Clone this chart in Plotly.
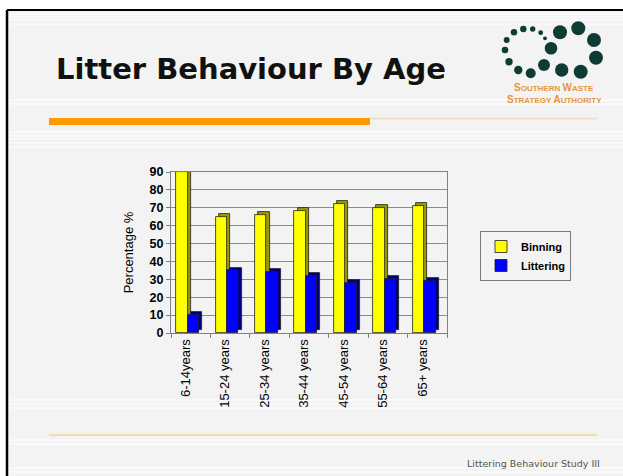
import plotly.graph_objects as go

# Survey results: share of respondents who bin or drop litter, by age group
ages = ["6-14years", "15-24 years", "25-34 years", "35-44 years",
        "45-54 years", "55-64 years", "65+ years"]
binning = [90, 65, 66, 68, 72, 70, 71]
littering = [10, 35, 34, 32, 28, 30, 29]
y_ticks = [0, 10, 20, 30, 40, 50, 60, 70, 80, 90]

W, H = 623, 476
L, R, T, B = 171, 447, 172, 333   # plot area in page pixels


def px(x):
    return (x - L) / (R - L)


def py(y):
    return (B - y) / (B - T)


BAR_W = 0.29
DEPTH_X = 0.08      # sideways shift of the shaded back face (category units)
DEPTH_Y = 1.6       # upward shift of the shaded back face (value units)

fig = go.Figure()


def add_3d_bars(values, name, face, side, offset):
    # shaded back face, then the front face over it
    fig.add_trace(go.Bar(
        x=ages, y=values, base=[DEPTH_Y] * len(values),
        offset=offset + DEPTH_X, width=BAR_W,
        marker=dict(color=side, line=dict(color="#202020", width=0.8)),
        showlegend=False, hoverinfo="skip"))
    fig.add_trace(go.Bar(
        x=ages, y=values, name=name,
        offset=offset, width=BAR_W,
        marker=dict(color=face, line=dict(color="#202020", width=0.8))))


add_3d_bars(binning, "Binning", "#ffff00", "#9a9a00", -0.37)
add_3d_bars(littering, "Littering", "#0000ff", "#00007a", -0.08)

shapes = []
# page frame: white margin, black rule along the top and left edge
shapes.append(dict(type="rect", xref="paper", yref="paper",
                   x0=px(0), x1=px(W), y0=py(0), y1=py(10),
                   fillcolor="white", line_width=0, layer="below"))
shapes.append(dict(type="rect", xref="paper", yref="paper",
                   x0=px(0), x1=px(7), y0=py(0), y1=py(H),
                   fillcolor="white", line_width=0, layer="below"))
shapes.append(dict(type="line", xref="paper", yref="paper",
                   x0=px(7), x1=px(W), y0=py(10), y1=py(10),
                   line=dict(color="black", width=2)))
shapes.append(dict(type="line", xref="paper", yref="paper",
                   x0=px(7), x1=px(7), y0=py(10), y1=py(H),
                   line=dict(color="black", width=2.5)))

# faint horizontal stripes of the slide background
for yy in [14, 17, 20, 24, 100, 104, 132, 136, 139, 143, 147, 400, 404, 408,
           440, 444, 468, 472]:
    shapes.append(dict(type="line", xref="paper", yref="paper",
                       x0=px(9), x1=px(W), y0=py(yy), y1=py(yy),
                       line=dict(color="#ffffff", width=1), layer="below"))

# orange title underline and thin beige rules
shapes.append(dict(type="rect", xref="paper", yref="paper",
                   x0=px(49), x1=px(370), y0=py(118), y1=py(125),
                   fillcolor="#ff9900", line_width=0))
shapes.append(dict(type="line", xref="paper", yref="paper",
                   x0=px(370), x1=px(597), y0=py(118.5), y1=py(118.5),
                   line=dict(color="#f1dfbd", width=2)))
shapes.append(dict(type="line", xref="paper", yref="paper",
                   x0=px(49), x1=px(597), y0=py(435), y1=py(435),
                   line=dict(color="#f0deaa", width=2)))

# logo: ring of dots
dots = [(506.7, 40, 3), (514, 32.3, 3.2), (523.3, 29, 3.2), (532.7, 29, 2.7),
        (540.7, 32.7, 2.4), (545, 38.3, 1.9), (505, 50, 3.3), (509, 61.7, 3.7),
        (518.3, 70, 4.2), (530.7, 73.3, 5), (544, 65, 6), (551, 48.3, 6.3),
        (560, 32.3, 7), (578.3, 28.3, 7), (594, 40, 7), (596, 57.7, 7),
        (580.7, 71.7, 7), (561.7, 70, 6.7)]
for cx, cy, r in dots:
    shapes.append(dict(type="circle", xref="paper", yref="paper",
                       x0=px(cx - r), x1=px(cx + r), y0=py(cy - r), y1=py(cy + r),
                       fillcolor="#0e3b33", line_width=0))

logo_font = dict(family="Liberation Sans", size=8, color="#e8953c")
annotations = [
    dict(text="<b>Litter Behaviour By Age</b>", xref="paper", yref="paper",
         x=px(54), y=py(69), xanchor="left", yanchor="middle", showarrow=False,
         font=dict(family="DejaVu Sans", size=29, color="#111111")),
    dict(text="Littering Behaviour Study III", xref="paper", yref="paper",
         x=px(465), y=py(463), xanchor="left", yanchor="middle", showarrow=False,
         font=dict(family="DejaVu Sans", size=9.5, color="#555555")),
    dict(text="<b><span style='font-size:10px'>S</span>OUTHERN "
              "<span style='font-size:10px'>W</span>ASTE</b>",
         xref="paper", yref="paper", x=px(553.5), y=py(88),
         xanchor="center", yanchor="middle", showarrow=False, font=logo_font),
    dict(text="<b><span style='font-size:10px'>S</span>TRATEGY "
              "<span style='font-size:10px'>A</span>UTHORITY</b>",
         xref="paper", yref="paper", x=px(554.5), y=py(99.5),
         xanchor="center", yanchor="middle", showarrow=False, font=logo_font),
]

fig.update_layout(
    width=W, height=H,
    margin=dict(l=L, r=W - R, t=T, b=H - B, pad=0),
    paper_bgcolor="#f3f3f3",
    plot_bgcolor="rgba(0,0,0,0)",
    barmode="overlay",
    bargap=0,
    shapes=shapes,
    annotations=annotations,
    legend=dict(x=px(480), y=py(231), xanchor="left", yanchor="top",
                bgcolor="rgba(0,0,0,0)", bordercolor="#7a7a7a", borderwidth=1,
                itemwidth=30, tracegroupgap=0,
                font=dict(family="Liberation Sans", size=11, color="black",
                          weight="bold")),
    xaxis=dict(type="category", categoryorder="array", categoryarray=ages,
               tickangle=-90, ticks="outside", tickson="boundaries",
               ticklen=4, tickcolor="#808080", showgrid=False,
               showline=True, linecolor="#808080", linewidth=1, mirror=True,
               ticklabelshift=-5,
               tickfont=dict(family="Liberation Sans", size=13, color="black")),
    yaxis=dict(range=[0, 90], tickvals=y_ticks, ticks="outside", ticklen=4,
               tickcolor="#808080", showgrid=True, gridcolor="#8c8c8c",
               gridwidth=1, showline=True, linecolor="#808080", linewidth=1,
               mirror=True, zeroline=False,
               tickfont=dict(family="Liberation Sans", size=12.5, color="black",
                             weight="bold"),
               title=dict(text="Percentage %", standoff=13,
                          font=dict(family="Liberation Sans", size=13,
                                    color="black"))),
)

fig.write_html("out.html")
